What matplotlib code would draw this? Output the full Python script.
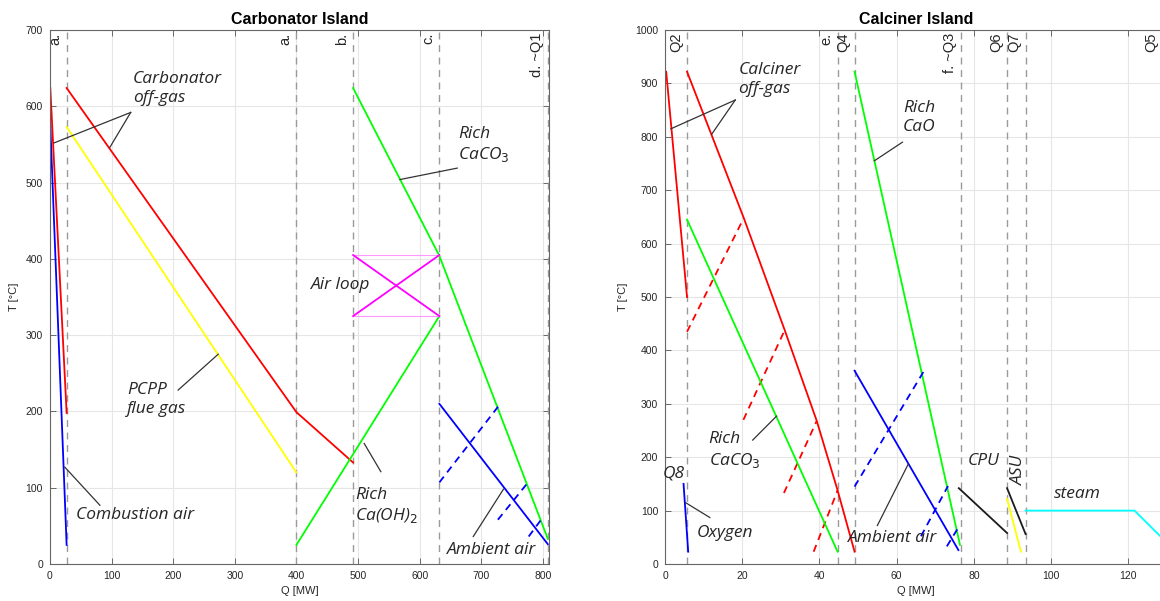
import numpy as np
from matplotlib import pyplot as plt

# ---------------- Carbonator island data (Q in MW, T in degC) ----------------
carb_vq = [27, 400, 492, 632, 808]
carb_vlab = ['a.', 'a.', 'b.', 'c.', 'd. ~Q1']

carb_gas1_q = [0.5, 27]
carb_gas1_t = [624, 198]
carb_gas2_q = [27, 400, 492]
carb_gas2_t = [624, 199, 133]
comb_air_q = [0.5, 27]
comb_air_t = [575, 25]
flue_q = [27, 400]
flue_t = [573, 120]
caoh2_q = [400, 632]
caoh2_t = [25, 325]
carb_caco3_q = [492, 632, 808]
carb_caco3_t = [624, 404, 33]
airloop_q = [492, 632]
airloop_hi = [405, 405]
airloop_lo = [325, 325]
carb_amb_q = [632, 808]
carb_amb_t = [210, 26]
carb_amb_dash_q = [[632, 729], [727, 777], [777, 798]]
carb_amb_dash_t = [[107, 208], [58, 108], [36, 59]]

# ---------------- Calciner island data ----------------
calc_vq = [5.7, 44.7, 49.1, 76.6, 88.6, 93.4, 128.8]
calc_vlab = ['Q2', 'e.', 'Q4', 'f. ~Q3', 'Q6', 'Q7', 'Q5']

calc_gas1_q = [0.3, 5.7]
calc_gas1_t = [922, 500]
calc_gas2_q = [5.7, 20.4, 31, 39.3, 44.7, 49.1]
calc_gas2_t = [922, 648, 438, 268, 138, 23]
calc_gas_dash_q = [[5.7, 20.4], [20.3, 31], [30.8, 39.3], [38.5, 44.7]]
calc_gas_dash_t = [[435, 648], [270, 438], [133, 268], [23, 138]]
calc_caco3_q = [5.7, 44.7]
calc_caco3_t = [645, 23]
calc_cao_q = [49.1, 76.4]
calc_cao_t = [922, 36]
calc_amb_q = [49.1, 76.0]
calc_amb_t = [362, 26]
calc_amb_dash_q = [[49.1, 67.2], [66.3, 73.3], [73.0, 75.7]]
calc_amb_dash_t = [[145, 363], [52, 146], [33, 65]]
oxygen_q = [4.8, 6.0]
oxygen_t = [150, 23]
cpu_q = [76.1, 88.6]
cpu_t = [142, 58]
asu_q = [88.6, 93.4]
asu_t = [142, 56]
asu_o2_q = [88.6, 92.2]
asu_o2_t = [122, 23]
steam_q = [93.4, 121.6, 129]
steam_t = [100, 100, 47]

TXT = dict(family='Open Sans', style='italic', fontsize=12.5, color='#262626')
LEAD = dict(color='#333333', lw=0.9)
LW = 1.3


def setup(ax, xlim, ylim, xticks, yticks, title):
    ax.set_xlim(xlim)
    ax.set_ylim(ylim)
    ax.set_xticks(xticks)
    ax.set_yticks(yticks)
    ax.grid(True, color='#e6e6e6', lw=0.8)
    ax.set_axisbelow(True)
    ax.tick_params(direction='in', top=True, right=True, length=4, width=0.6,
                   labelsize=7.5, labelcolor='#262626', color='#555555', pad=5)
    for s in ax.spines.values():
        s.set_color('#666666')
        s.set_linewidth(0.8)
    for lab in ax.get_xticklabels() + ax.get_yticklabels():
        lab.set_family('Liberation Sans')
    ax.set_xlabel('Q [MW]', fontsize=8, family='Liberation Sans', color='#262626', labelpad=4)
    ax.set_ylabel('T [°C]', fontsize=8, family='Liberation Sans', color='#262626', labelpad=5)
    ax.set_title(title, fontsize=11.5, fontweight='bold', family='Liberation Sans', pad=4)


def vlines(ax, qs, labels):
    for q, lab in zip(qs, labels):
        ax.axvline(q, color='#9a9a9a', lw=1.0, ls=(0, (5, 4)))
        ax.annotate(lab, xy=(q, 1), xycoords=('data', 'axes fraction'),
                    xytext=(-3, -2), textcoords='offset points', rotation=90,
                    ha='right', va='top', fontsize=10.5, family='Liberation Sans',
                    color='#262626', annotation_clip=False)


def leader(ax, p0, p1):
    ax.plot([p0[0], p1[0]], [p0[1], p1[1]], **LEAD)


fig = plt.figure(figsize=(11.6, 6.01), dpi=100)

# ---------------- left panel ----------------
ax1 = fig.add_axes([0.0431, 0.0616, 0.4302, 0.8884])
setup(ax1, (0, 810), (0, 700), np.arange(0, 801, 100), np.arange(0, 701, 100),
      'Carbonator Island')
vlines(ax1, carb_vq, carb_vlab)

ax1.plot(carb_gas1_q, carb_gas1_t, color='#ff0000', lw=LW)
ax1.plot(carb_gas2_q, carb_gas2_t, color='#ff0000', lw=LW)
ax1.plot(comb_air_q, comb_air_t, color='#0000ff', lw=LW)
ax1.plot(flue_q, flue_t, color='#ffff00', lw=LW)
ax1.plot(caoh2_q, caoh2_t, color='#00ff00', lw=LW)
ax1.plot(carb_caco3_q, carb_caco3_t, color='#00ff00', lw=LW)
ax1.plot(airloop_q, airloop_hi, color='#ff99ff', lw=0.8)
ax1.plot(airloop_q, airloop_lo, color='#ff99ff', lw=0.8)
ax1.plot(airloop_q, [airloop_hi[0], airloop_lo[1]], color='#ff00ff', lw=LW)
ax1.plot(airloop_q, [airloop_lo[0], airloop_hi[1]], color='#ff00ff', lw=LW)
ax1.plot(carb_amb_q, carb_amb_t, color='#0000ff', lw=LW)
for q, t in zip(carb_amb_dash_q, carb_amb_dash_t):
    ax1.plot(q, t, color='#0000ff', lw=LW, ls=(0, (4, 3)))

ax1.text(135, 624, 'Carbonator\noff-gas', ha='left', va='center', linespacing=1.25, **TXT)
leader(ax1, (131, 592), (6.5, 552))
leader(ax1, (131, 592), (97, 546))
ax1.text(125, 215, 'PCPP\nflue gas', ha='left', va='center', linespacing=1.25, **TXT)
leader(ax1, (208, 228), (273, 275))
ax1.text(42, 64, 'Combustion air', ha='left', va='center', **TXT)
leader(ax1, (81, 77), (24, 127))
ax1.text(495, 76, 'Rich\nCa(OH)$_2$', ha='left', va='center', linespacing=1.25, **TXT)
leader(ax1, (537, 121), (510, 158))
ax1.text(423, 366, 'Air loop', ha='left', va='center', **TXT)
ax1.text(662, 549, 'Rich\nCaCO$_3$', ha='left', va='center', linespacing=1.25, **TXT)
leader(ax1, (661, 519), (568, 504))
ax1.text(644, 18, 'Ambient air', ha='left', va='center', **TXT)
leader(ax1, (687, 36), (736, 98))

# ---------------- right panel ----------------
ax2 = fig.add_axes([0.5733, 0.0616, 0.4293 * 130 / 129, 0.8884])
setup(ax2, (0, 130), (0, 1000), np.arange(0, 121, 20), np.arange(0, 1001, 100),
      'Calciner Island')
ax2.title.set_position((0.5, 1))
vlines(ax2, calc_vq, calc_vlab)

ax2.plot(calc_gas1_q, calc_gas1_t, color='#ff0000', lw=LW)
ax2.plot(calc_gas2_q, calc_gas2_t, color='#ff0000', lw=LW)
for q, t in zip(calc_gas_dash_q, calc_gas_dash_t):
    ax2.plot(q, t, color='#ff0000', lw=LW, ls=(0, (4, 3)))
ax2.plot(calc_caco3_q, calc_caco3_t, color='#00ff00', lw=LW)
ax2.plot(calc_cao_q, calc_cao_t, color='#00ff00', lw=LW)
ax2.plot(calc_amb_q, calc_amb_t, color='#0000ff', lw=LW)
for q, t in zip(calc_amb_dash_q, calc_amb_dash_t):
    ax2.plot(q, t, color='#0000ff', lw=LW, ls=(0, (4, 3)))
ax2.plot(oxygen_q, oxygen_t, color='#0000ff', lw=LW)
ax2.plot(cpu_q, cpu_t, color='#1a1a1a', lw=LW)
ax2.plot(asu_q, asu_t, color='#1a1a1a', lw=LW)
ax2.plot(asu_o2_q, asu_o2_t, color='#ffff00', lw=LW)
ax2.plot(steam_q, steam_t, color='#00ffff', lw=LW)

ax2.text(19, 908, 'Calciner\noff-gas', ha='left', va='center', linespacing=1.25, **TXT)
leader(ax2, (18.2, 869), (1.5, 815))
leader(ax2, (18.2, 869), (12.1, 805))
ax2.text(61.7, 837, 'Rich\nCaO', ha='left', va='center', linespacing=1.25, **TXT)
leader(ax2, (61.5, 790), (54.2, 755))
ax2.text(11.3, 213, 'Rich\nCaCO$_3$', ha='left', va='center', linespacing=1.25, **TXT)
leader(ax2, (22.7, 232), (28.9, 277))
ax2.text(-0.5, 169, 'Q8', ha='left', va='center', **TXT)
ax2.text(8.3, 58, 'Oxygen', ha='left', va='center', **TXT)
leader(ax2, (5.3, 115), (11.6, 87))
ax2.text(47.5, 49, 'Ambient air', ha='left', va='center', **TXT)
leader(ax2, (55, 72), (63, 187))
ax2.text(78.4, 193, 'CPU', ha='left', va='center', **TXT)
ax2.text(91.7, 176, 'ASU', ha='center', va='center', rotation=90, **TXT)
ax2.text(100.8, 131, 'steam', ha='left', va='center', **TXT)

fig.savefig('out.png', dpi=100)
